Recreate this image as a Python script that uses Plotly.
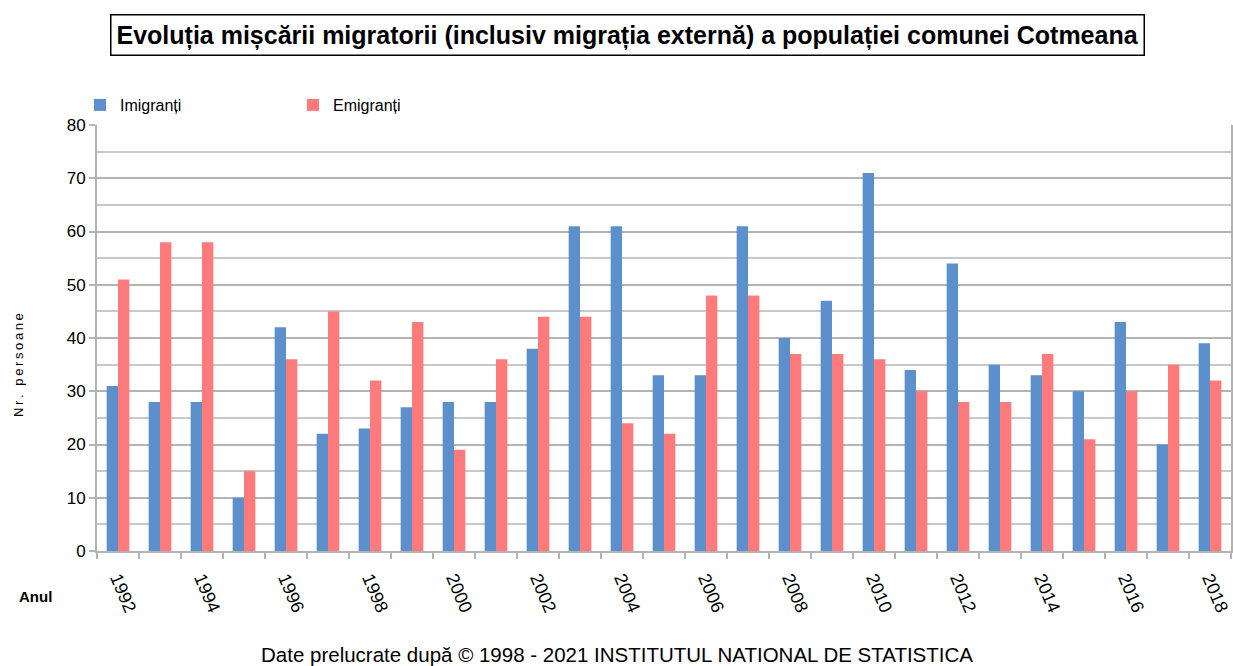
import plotly.graph_objects as go

years = list(range(1992, 2019))
imigranti = [31, 28, 28, 10, 42, 22, 23, 27, 28, 28, 38, 61, 61, 33, 33, 61, 40, 47, 71, 34, 54, 35, 33, 30, 43, 20, 39]
emigranti = [51, 58, 58, 15, 36, 45, 32, 43, 19, 36, 44, 44, 24, 22, 48, 48, 37, 37, 36, 30, 28, 28, 37, 21, 30, 35, 32]
label_years = list(range(1992, 2019, 2))
y_ticks = list(range(0, 81, 10))

title_text = "Evoluția mișcării migratorii (inclusiv migrația externă) a populației comunei Cotmeana"
source_text = "Date prelucrate după © 1998 - 2021 INSTITUTUL NATIONAL DE STATISTICA"
y_title = "Nr. persoane"

font_family = "Liberation Sans, Arial, sans-serif"
blue = "#5B90CC"
pink = "#FF7A7A"
grid = "#B3B3B3"

W, H = 1233, 666
L, R, T, B = 97, 2, 125, 115
pw = W - L - R
ph = H - T - B

fig = go.Figure()
fig.add_trace(go.Bar(x=years, y=imigranti, name="Imigranți", marker=dict(color=blue, line=dict(width=0))))
fig.add_trace(go.Bar(x=years, y=emigranti, name="Emigranți", marker=dict(color=pink, line=dict(width=0))))

fig.update_layout(
    width=W, height=H,
    paper_bgcolor="white", plot_bgcolor="white",
    margin=dict(l=L, r=R, t=T, b=B, autoexpand=False),
    barmode="group", bargap=0.46, bargroupgap=0,
    font=dict(family=font_family, color="#000000"),
    showlegend=True,
    legend=dict(orientation="h", x=(80 - L) / pw, y=1 + 3 / ph, xanchor="left", yanchor="bottom",
                font=dict(size=16, family=font_family), entrywidth=168, itemsizing="constant",
                itemwidth=30, bgcolor="rgba(0,0,0,0)", tracegroupgap=0),
    xaxis=dict(
        type="linear", range=[1991.5, 2018.5],
        tickmode="array", tickvals=label_years, ticktext=[str(y) for y in label_years],
        tickangle=67, ticks="", tickfont=dict(size=18, family=font_family, color="#000"),
        ticklabelstandoff=8,
        showgrid=False, zeroline=False,
        showline=True, linecolor=grid, linewidth=2,
        minor=dict(tickmode="linear", tick0=0.5, dtick=1, ticks="outside", ticklen=6,
                   tickcolor=grid, tickwidth=2, showgrid=False),
    ),
    yaxis=dict(
        range=[0, 80], tickmode="array", tickvals=y_ticks,
        ticks="outside", ticklen=6, tickcolor=grid, tickwidth=2,
        tickfont=dict(size=17, family=font_family, color="#000"),
        showgrid=True, gridcolor=grid, gridwidth=2,
        minor=dict(tickmode="linear", tick0=5, dtick=10, showgrid=True, gridcolor="#C8C8C8", gridwidth=2, ticks=""),
        showline=True, linecolor=grid, linewidth=2, mirror=True,
        zeroline=False,
    ),
)

fig.add_annotation(
    text="<b>" + title_text + "</b>", xref="paper", yref="paper",
    x=(627 - L) / pw, y=1 + (T - 35) / ph, xanchor="center", yanchor="middle",
    showarrow=False, font=dict(size=25, family=font_family, color="#000"),
    bordercolor="#000000", borderwidth=1.5, borderpad=5, bgcolor="white",
)
fig.add_annotation(
    text="\u2009".join(y_title), xref="paper", yref="paper", x=(18 - L) / pw, y=(H - B - 365) / ph,
    xanchor="center", yanchor="middle", showarrow=False, textangle=-90,
    font=dict(size=13, family=font_family, color="#000"),
)
fig.add_annotation(
    text="<b>Anul</b>", xref="paper", yref="paper", x=(35 - L) / pw, y=-(596 - (H - B)) / ph,
    xanchor="center", yanchor="middle", showarrow=False,
    font=dict(size=15, family=font_family, color="#000"),
)
fig.add_annotation(
    text=source_text, xref="paper", yref="paper", x=(617 - L) / pw, y=-(654 - (H - B)) / ph,
    xanchor="center", yanchor="middle", showarrow=False,
    font=dict(size=20.5, family=font_family, color="#000"),
)

fig.write_html("out.html", config={"displayModeBar": False},
               post_script="document.body.style.margin='0';document.body.style.overflow='hidden';")
